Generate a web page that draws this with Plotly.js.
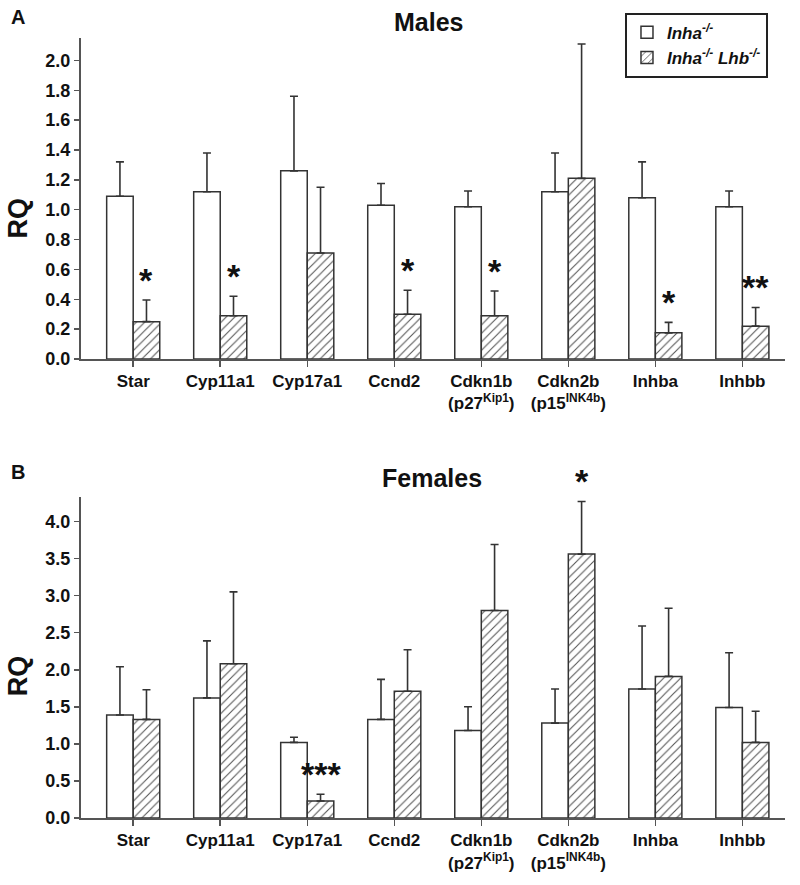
<!DOCTYPE html>
<html>
<head>
<meta charset="utf-8">
<script src="https://cdn.plot.ly/plotly-3.0.1.min.js"></script>
<style>html,body{margin:0;padding:0;background:#fff;}#chart{width:800px;height:885px;}</style>
</head>
<body>
<div id="chart"></div>
<script>
// ---- data ----
var genes = ["Star","Cyp11a1","Cyp17a1","Ccnd2","Cdkn1b","Cdkn2b","Inhba","Inhbb"];
var geneLabels = ["Star","Cyp11a1","Cyp17a1","Ccnd2","Cdkn1b<br>(p27<sup>Kip1</sup>)","Cdkn2b<br>(p15<sup>INK4b</sup>)","Inhba","Inhbb"];
var seriesNames = ["<b><i>Inha</i></b><sup><b><i>-/-</i></b></sup>", "<b><i>Inha</i></b><sup><b><i>-/-</i></b></sup><b><i> Lhb</i></b><sup><b><i>-/-</i></b></sup>"];

// Males (panel A)
var maleInha     = [1.09, 1.12, 1.26, 1.03, 1.02, 1.12, 1.08, 1.02];
var maleInhaErr  = [0.23, 0.26, 0.50, 0.145, 0.105, 0.26, 0.24, 0.105];
var maleDKO      = [0.25, 0.29, 0.71, 0.30, 0.29, 1.21, 0.175, 0.22];
var maleDKOErr   = [0.145, 0.13, 0.44, 0.16, 0.165, 0.90, 0.07, 0.125];
var maleSig      = ["*","*","","*","*","","*","**"];

// Females (panel B)
var femInha      = [1.39, 1.62, 1.02, 1.33, 1.18, 1.28, 1.74, 1.49];
var femInhaErr   = [0.65, 0.77, 0.07, 0.54, 0.32, 0.46, 0.85, 0.74];
var femDKO       = [1.33, 2.08, 0.23, 1.71, 2.80, 3.56, 1.91, 1.02];
var femDKOErr    = [0.40, 0.97, 0.09, 0.56, 0.89, 0.71, 0.92, 0.42];
var femSig       = ["","","***","","","*","",""];

// ---- styles ----
var lineCol = "#333333";
var axisCol = "#555555";
var famReg = "'Liberation Sans',Arial,sans-serif";

function whiteBar(y, err, xa, ya, show) {
  return {type:"bar", x:genes, y:y, xaxis:xa, yaxis:ya, name:seriesNames[0], showlegend:show, legendgroup:"a",
    marker:{color:"#ffffff", line:{color:lineCol, width:1.5}},
    error_y:{type:"data", symmetric:false, array:err, arrayminus:err.map(function(){return 0;}), color:lineCol, thickness:1.6, width:4}};
}
function hatchBar(y, err, xa, ya, show) {
  return {type:"bar", x:genes, y:y, xaxis:xa, yaxis:ya, name:seriesNames[1], showlegend:show, legendgroup:"b",
    marker:{color:"#ffffff", line:{color:lineCol, width:1.5},
      pattern:{shape:"/", fgcolor:"#555555", bgcolor:"#ffffff", size:6, solidity:0.18}},
    error_y:{type:"data", symmetric:false, array:err, arrayminus:err.map(function(){return 0;}), color:lineCol, thickness:1.6, width:4}};
}

var traces = [
  whiteBar(maleInha, maleInhaErr, "x", "y", true),
  hatchBar(maleDKO, maleDKOErr, "x", "y", true),
  whiteBar(femInha, femInhaErr, "x2", "y2", false),
  hatchBar(femDKO, femDKOErr, "x2", "y2", false)
];

var annotations = [];
function addSig(sig, vals, errs, xref, yref) {
  for (var i = 0; i < sig.length; i++) {
    if (!sig[i]) continue;
    annotations.push({xref:xref, yref:yref, x:i + 0.1525, y:vals[i] + errs[i], text:sig[i],
      showarrow:false, xanchor:"center", yanchor:"middle", yshift:20,
      font:{family:famReg, size:34, color:"#111", weight:"bold"}});
  }
}
addSig(maleSig, maleDKO, maleDKOErr, "x", "y");
addSig(femSig, femDKO, femDKOErr, "x2", "y2");

// panel letters, titles, RQ labels
annotations.push({xref:"paper", yref:"paper", x:-0.09, y:1.0275, text:"A", showarrow:false, xanchor:"center", yanchor:"middle", font:{family:famReg, size:20, color:"#111", weight:"bold"}});
annotations.push({xref:"paper", yref:"paper", x:-0.09, y:0.4436, text:"B", showarrow:false, xanchor:"center", yanchor:"middle", font:{family:famReg, size:20, color:"#111", weight:"bold"}});
annotations.push({xref:"paper", yref:"paper", x:0.4929, y:1.0205, text:"Males", showarrow:false, xanchor:"center", yanchor:"middle", font:{family:famReg, size:25, color:"#111", weight:"bold"}});
annotations.push({xref:"paper", yref:"paper", x:0.4986, y:0.4359, text:"Females", showarrow:false, xanchor:"center", yanchor:"middle", font:{family:famReg, size:25, color:"#111", weight:"bold"}});
annotations.push({xref:"paper", yref:"paper", x:-0.0895, y:0.77, text:"RQ", textangle:-90, showarrow:false, xanchor:"center", yanchor:"middle", font:{family:famReg, size:27, color:"#111", weight:"bold"}});
annotations.push({xref:"paper", yref:"paper", x:-0.0895, y:0.183, text:"RQ", textangle:-90, showarrow:false, xanchor:"center", yanchor:"middle", font:{family:famReg, size:27, color:"#111", weight:"bold"}});

function xAxis(anchor) {
  return {anchor:anchor, type:"category", range:[-0.6, 7.49], tickvals:genes, ticktext:geneLabels,
    showline:true, linecolor:axisCol, linewidth:2, ticks:"outside", ticklen:6, tickwidth:1.5, tickcolor:axisCol,
    showgrid:false, zeroline:false, fixedrange:true,
    tickfont:{family:famReg, size:17, color:"#111", weight:"bold"}};
}
function yAxis(anchor, domain, maxv, dt) {
  return {anchor:anchor, domain:domain, range:[0, maxv], dtick:dt, tick0:0, tickformat:".1f",
    showline:true, linecolor:axisCol, linewidth:2, ticks:"outside", ticklen:5, tickwidth:1.5, tickcolor:axisCol,
    showgrid:false, zeroline:false, fixedrange:true,
    tickfont:{family:famReg, size:18, color:"#111", weight:"bold"}};
}

var layout = {
  width:800, height:885,
  margin:{l:81, r:15, t:38, b:67, pad:0},
  paper_bgcolor:"#fff", plot_bgcolor:"#fff",
  barmode:"group", bargap:0.39, bargroupgap:0,
  showlegend:true,
  legend:{x:0.7727, y:1.0324, xanchor:"left", yanchor:"top", bordercolor:"#222", borderwidth:2, bgcolor:"#fff",
    font:{family:famReg, size:17, color:"#111"}, tracegroupgap:0, itemwidth:30},
  xaxis: xAxis("y"),
  yaxis: yAxis("x", [0.5885, 1], 2.15, 0.2),
  xaxis2: xAxis("y2"),
  yaxis2: yAxis("x2", [0, 0.4115], 4.33, 0.5),
  annotations: annotations
};

Plotly.newPlot("chart", traces, layout, {staticPlot:true, displayModeBar:false});
</script>
</body>
</html>
